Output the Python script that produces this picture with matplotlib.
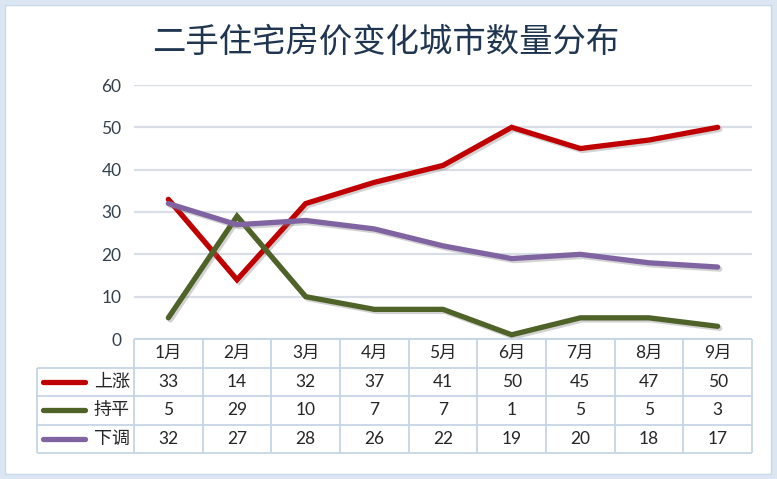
import numpy as np
import matplotlib
matplotlib.use("Agg")
import matplotlib.pyplot as plt
import matplotlib.patheffects as pe
from matplotlib.patches import Rectangle

plt.rcParams['font.family'] = ['Lato', 'Noto Sans CJK SC', 'DejaVu Sans']

# data
months = ['1月', '2月', '3月', '4月', '5月', '6月', '7月', '8月', '9月']
series_names = ['上涨', '持平', '下调']
rise = [33, 14, 32, 37, 41, 50, 45, 47, 50]
flat = [5, 29, 10, 7, 7, 1, 5, 5, 3]
fall = [32, 27, 28, 26, 22, 19, 20, 18, 17]
series = [rise, flat, fall]
colors = ['#C00000', '#4F6228', '#8064A2']
y_ticks = [0, 10, 20, 30, 40, 50, 60]

W, H = 777, 479
fig = plt.figure(figsize=(W / 100, H / 100), dpi=100, facecolor='#DCE6F2')


def fx(px):
    return px / W


def fy(py):
    return 1 - py / H


# white inner panel
fig.patches.append(Rectangle((fx(5), fy(474)), fx(771) - fx(5), fy(5) - fy(474),
                             transform=fig.transFigure, facecolor='white',
                             edgecolor='#C9D7EA', linewidth=1, zorder=-10))

fig.text(fx(386), fy(42), '二手住宅房价变化城市数量分布', ha='center', va='center',
         fontsize=24, color='#1F3550', family=['Noto Sans CJK SC'], weight='medium')

# line chart
left, right, top, bottom = 134, 752, 85, 339
ax = fig.add_axes([fx(left), fy(bottom), fx(right) - fx(left), fy(top) - fy(bottom)])
ax.set_facecolor('none')
x = np.arange(len(months))
shadow = [pe.SimpleLineShadow(offset=(1.5, -1.5), shadow_color='#808080', alpha=0.35), pe.Normal()]
for vals, c in zip(series, colors):
    ax.plot(x, vals, color=c, linewidth=3.8, solid_capstyle='round',
            solid_joinstyle='miter', path_effects=shadow, zorder=3)
ax.set_xlim(-0.5, len(months) - 0.5)
ax.set_ylim(0, 60)
ax.set_yticks(y_ticks)
ax.set_xticks([])
for s in ax.spines.values():
    s.set_visible(False)
ax.yaxis.grid(True, color='#D9DEE6', linewidth=1.6)
ax.set_axisbelow(True)
ax.tick_params(axis='y', length=0, pad=9, labelsize=12.5, labelcolor='#34404E')

# data table below the chart
tleft, tbottom = 37, 453
scale = (right - left) / len(months)
x0 = -0.5 - (left - tleft) / scale
tax = fig.add_axes([fx(tleft), fy(tbottom), fx(right) - fx(tleft), fy(bottom) - fy(tbottom)])
tax.set_xlim(x0, len(months) - 0.5)
tax.set_ylim(4, 0)
tax.axis('off')
bc = '#C6D4E6'
tax.hlines(0, -0.5, len(months) - 0.5, color=bc, lw=1.3, clip_on=False)
tax.hlines([1, 2, 3, 4], x0, len(months) - 0.5, color=bc, lw=1.3, clip_on=False)
tax.vlines(x0, 1, 4, color=bc, lw=1.3, clip_on=False)
tax.vlines(np.arange(len(months) + 1) - 0.5, 0, 4, color=bc, lw=1.3, clip_on=False)

tc = '#262626'
for i, m in enumerate(months):
    tax.text(i, 0.5, m, ha='center', va='center', fontsize=12.5, color=tc)
for r, (name, vals, c) in enumerate(zip(series_names, series, colors)):
    yc = r + 1.5
    for i, v in enumerate(vals):
        tax.text(i, yc, str(v), ha='center', va='center', fontsize=12.5, color=tc)
    lx0 = x0 + (43 - tleft) / scale
    lx1 = x0 + (85 - tleft) / scale
    tax.plot([lx0, lx1], [yc, yc], color=c, lw=3.8, solid_capstyle='round', clip_on=False)
    tax.text(-0.5 - 4 / scale, yc, name, ha='right', va='center', fontsize=13, color=tc,
             family=['Noto Sans CJK SC'])

fig.savefig('out.png', dpi=100, facecolor=fig.get_facecolor())
